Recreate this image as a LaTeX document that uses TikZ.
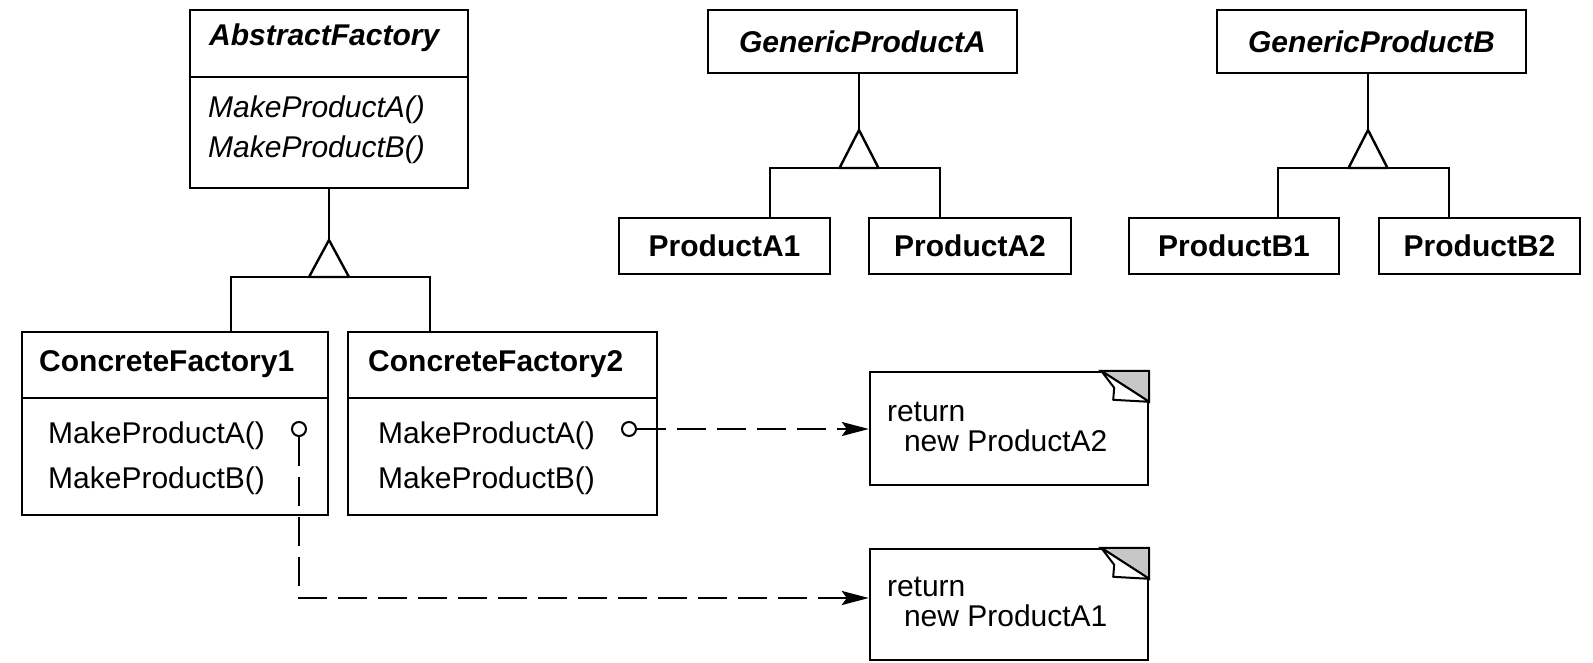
\documentclass[tikz,border=0pt]{standalone}
\usepackage{fontspec}
\setmainfont{Liberation Sans}
\usepackage{tikz}
\usetikzlibrary{arrows.meta, calc}
\newcommand{\umlsize}{\fontsize{30}{29.5}\selectfont}
\tikzset{
  box/.style     = {rectangle, draw, line width=2.4pt, inner sep=0pt},
  absname/.style = {font=\umlsize\bfseries\itshape},
  cname/.style   = {font=\umlsize\bfseries},
  optext/.style  = {anchor=base west, inner sep=0pt, font=\umlsize},
  absop/.style   = {optext, font=\umlsize\itshape},
  line/.style    = {line width=2.4pt},
  pin/.style     = {circle, draw, fill=white, line width=2pt, minimum size=14pt, inner sep=0pt},
  note/.style    = {rectangle, draw, line width=2.4pt, inner sep=0pt},
  dasharrow/.style = {line width=2.4pt, dash pattern=on 29pt off 11pt,
                      -{Stealth[length=27pt, width=14pt, inset=5pt]}},
}

\begin{document}
\begin{tikzpicture}[x=1pt, y=-1pt]
    \useasboundingbox (0,0) rectangle (1593,662);

    %% Abstract factory
    \node[box, minimum width=278pt, minimum height=178pt] (af) at (329,99) {};
    \draw[line] (af.west |- 0,77) -- (af.east |- 0,77);
    \node[optext, absname] (afName) at (209,45)  {AbstractFactory};
    \node[absop]           (afOpA)  at (208,117) {MakeProductA()};
    \node[absop]           (afOpB)  at (208,157) {MakeProductB()};

    %% Concrete factories
    \node[box, minimum width=306pt, minimum height=183pt] (cf1) at (175,423.5) {};
    \draw[line] (cf1.west |- 0,398) -- (cf1.east |- 0,398);
    \node[optext, cname] (cf1Name) at (39,371) {ConcreteFactory1};
    \node[optext]        (cf1OpA)  at (48,443) {MakeProductA()};
    \node[optext]        (cf1OpB)  at (48,488) {MakeProductB()};

    \node[box, minimum width=309pt, minimum height=183pt] (cf2) at (502.5,423.5) {};
    \draw[line] (cf2.west |- 0,398) -- (cf2.east |- 0,398);
    \node[optext, cname] (cf2Name) at (368,371) {ConcreteFactory2};
    \node[optext]        (cf2OpA)  at (378,443) {MakeProductA()};
    \node[optext]        (cf2OpB)  at (378,488) {MakeProductB()};

    %% Products
    \node[box, absname, minimum width=309pt, minimum height=63pt] (gpa) at (862.5,41.5)  {GenericProductA};
    \node[box, absname, minimum width=309pt, minimum height=63pt] (gpb) at (1371.5,41.5) {GenericProductB};
    \node[box, cname, minimum width=211pt, minimum height=56pt] (pa1) at (724.5,246)  {ProductA1};
    \node[box, cname, minimum width=202pt, minimum height=56pt] (pa2) at (970,246)    {ProductA2};
    \node[box, cname, minimum width=210pt, minimum height=56pt] (pb1) at (1234,246)   {ProductB1};
    \node[box, cname, minimum width=201pt, minimum height=56pt] (pb2) at (1479.5,246) {ProductB2};

    %% Inheritance
    \coordinate (afTip)  at (329,240);
    \coordinate (gpaTip) at (859,130);
    \coordinate (gpbTip) at (1368,130);

    \draw[line] (af.south) -- (afTip);
    \draw[line, line join=round] (afTip) -- ++(-20,37) -- ++(40,0) -- cycle;
    \draw[line] (cf1.north -| 231,0) -- (231,277) -- (430,277) -- (cf2.north -| 430,0);

    \draw[line] (gpa.south -| gpaTip) -- (gpaTip);
    \draw[line, line join=round] (gpaTip) -- ++(-19.5,38) -- ++(39,0) -- cycle;
    \draw[line] (pa1.north -| 770,0) -- (770,168) -- (940,168) -- (pa2.north -| 940,0);

    \draw[line] (gpb.south -| gpbTip) -- (gpbTip);
    \draw[line, line join=round] (gpbTip) -- ++(-19.5,38) -- ++(39,0) -- cycle;
    \draw[line] (pb1.north -| 1278,0) -- (1278,168) -- (1449,168) -- (pb2.north -| 1449,0);

    %% Notes
    \node[note, minimum width=278pt, minimum height=113pt] (n1) at (1009,428.5) {};
    \node[note, minimum width=278pt, minimum height=111pt] (n2) at (1009,604.5) {};
    \foreach \n in {n1, n2} {
      \draw[line width=2pt, fill=black!22] ($(\n.north east)+(-48,0)$) -- (\n.north east) -- ($(\n.north east)+(0,31)$) -- cycle;
      \draw[line width=2pt, fill=white, line join=round] ($(\n.north east)+(-48,0)$) -- ($(\n.north east)+(-35,17)$)
        -- ($(\n.north east)+(-36,29)$) -- ($(\n.north east)+(0,31)$) -- cycle;
    }
    \node[optext, align=left] (n1Text) at ($(n1.north west)+(18,80.5)$) {return\\\hspace*{17pt}new ProductA2};
    \node[optext, align=left] (n2Text) at ($(n2.north west)+(18,78.5)$) {return\\\hspace*{17pt}new ProductA1};

    %% Implementation links
    \node[pin] (c1) at (299,429) {};
    \node[pin] (c2) at (629,429) {};
    \coordinate (bend) at (c1 |- 0,598);
    \draw[dasharrow] (c2.east) -- (c2 -| n1.west);
    \draw[dasharrow] (c1.south) -- (bend) -- (bend -| n2.west);

  \end{tikzpicture}
\end{document}
